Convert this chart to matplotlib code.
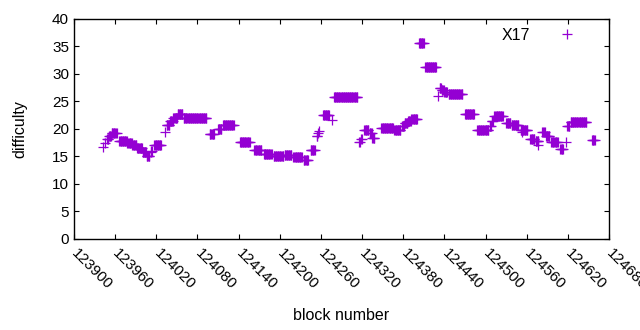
import numpy as np
import matplotlib
matplotlib.use('Agg')
import matplotlib.pyplot as plt

# difficulty runs: first block, last block, difficulty
run_start = [123943, 123945, 123948, 123951, 123955, 123966, 123978, 123985, 123992, 124000,
             124006, 124012, 124013, 124017, 124033, 124035, 124040, 124045, 124051, 124060,
             124098, 124110, 124117, 124142, 124163, 124177, 124191, 124207, 124220, 124235,
             124245, 124254, 124256, 124257, 124263, 124276, 124279, 124316, 124319, 124323,
             124331, 124335, 124348, 124367, 124378, 124382, 124387, 124392, 124403, 124412,
             124431, 124433, 124436, 124440, 124446, 124470, 124488, 124506, 124509, 124513,
             124530, 124538, 124551, 124553, 124565, 124573, 124576, 124583, 124588, 124596,
             124609, 124617, 124619, 124624, 124655]
run_end = [123943, 123945, 123950, 123954, 123962, 123977, 123984, 123991, 123999, 124005,
           124010, 124012, 124014, 124027, 124033, 124039, 124044, 124050, 124058, 124093,
           124104, 124115, 124133, 124156, 124173, 124188, 124205, 124217, 124232, 124241,
           124251, 124255, 124256, 124257, 124272, 124276, 124313, 124317, 124320, 124329,
           124334, 124338, 124365, 124376, 124381, 124386, 124391, 124400, 124410, 124428,
           124431, 124435, 124439, 124444, 124466, 124483, 124504, 124508, 124511, 124525,
           124536, 124548, 124561, 124553, 124571, 124577, 124576, 124586, 124593, 124605,
           124613, 124617, 124622, 124647, 124659]
run_diff = [16.8, 17.4, 18.2, 18.7, 19.2, 17.8, 17.4, 17.0, 16.5, 15.8,
            15.1, 15.8, 16.0, 17.0, 19.4, 20.8, 21.4, 22.0, 22.8, 22.0,
            19.0, 20.0, 20.7, 17.6, 16.2, 15.5, 15.0, 15.2, 14.9, 14.3,
            16.2, 18.8, 19.2, 19.6, 22.6, 21.6, 25.9, 17.6, 18.2, 19.8,
            19.2, 18.3, 20.2, 19.9, 20.6, 21.1, 21.5, 21.9, 35.6, 31.3,
            26.0, 27.4, 27.0, 26.7, 26.4, 22.7, 19.8, 20.6, 21.5, 22.3,
            21.1, 20.8, 19.8, 19.5, 18.2, 17.9, 17.1, 19.5, 18.7, 17.7,
            16.3, 17.7, 20.6, 21.2, 18.0]

xticks = list(range(123900, 124681, 60))
yticks = list(range(0, 41, 5))

blocks = []
diffs = []
for s, e, d in zip(run_start, run_end, run_diff):
    for b in range(s, e + 1):
        blocks.append(b)
        diffs.append(d)

plt.rcParams['font.family'] = ['Liberation Sans', 'DejaVu Sans']
plt.rcParams['font.size'] = 11

fig = plt.figure(figsize=(6.4, 3.3), dpi=100)
ax = fig.add_axes([0.1156, 0.2758, 0.8360, 0.6667])

ax.plot(blocks, diffs, linestyle='none', marker='+', markersize=6.5,
        markeredgewidth=0.9, color='#9400d3', label='X17')

ax.set_xlim(123900, 124680)
ax.set_ylim(0, 40)
ax.set_xticks(xticks)
ax.set_yticks(yticks)
ax.set_xticklabels([str(t) for t in xticks], rotation=-45, ha='left', va='center',
                   rotation_mode='anchor')
ax.tick_params(direction='in', length=3.5, width=0.8, top=True, right=True,
               colors='black', labelsize=11)
ax.tick_params(axis='x', pad=9)
for sp in ax.spines.values():
    sp.set_linewidth(1.0)

ax.set_xlabel('block number', labelpad=11, fontsize=11.5)
ax.set_ylabel('difficulty', labelpad=18, fontsize=11.5)

ax.legend(loc='upper right', bbox_to_anchor=(0.965, 1.01), frameon=False,
          markerfirst=False, numpoints=1, handlelength=1.5, handletextpad=1.6,
          borderaxespad=0.3, fontsize=11.5)

fig.savefig('out.png', dpi=100)
